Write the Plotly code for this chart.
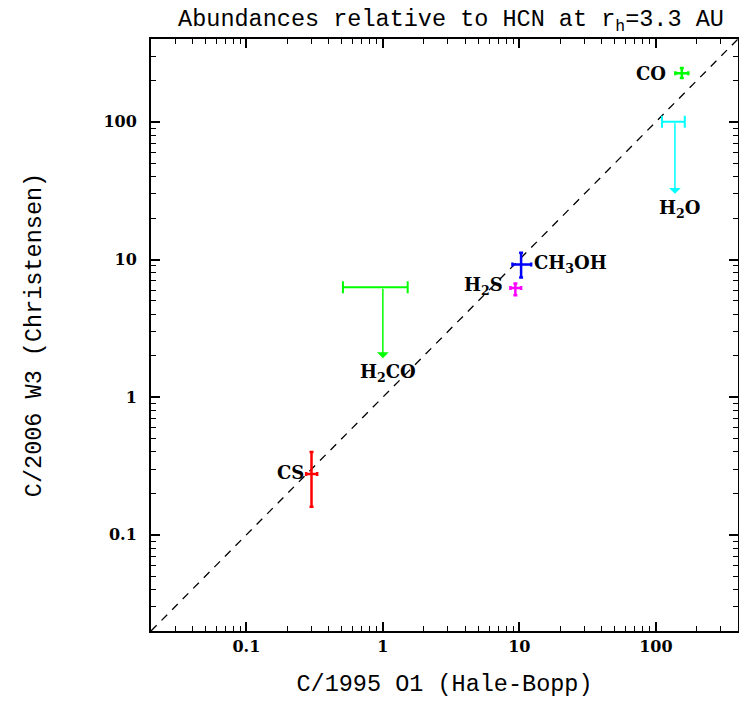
import numpy as np
import plotly.graph_objects as go

# --- data ---
species = ["CO", "CH3OH", "H2S", "CS"]
labels = ["CO", "CH<sub>3</sub>OH", "H<sub>2</sub>S", "CS"]
colors = ["#00ff00", "#0000ff", "#ff00ff", "#ff0000"]
x_hb = [155, 10.3, 9.35, 0.30]
x_lo = [139, 8.9, 8.6, 0.274]
x_hi = [173, 12.2, 10.3, 0.33]
y_w3 = [226, 9.2, 6.2, 0.277]
y_lo = [208, 7.4, 5.5, 0.16]
y_hi = [246, 11.2, 6.7, 0.40]
label_shift_x = [-31, 49, -32, -21]
label_shift_y = [0, 0, 2, 1]

# upper limits
lim_species = ["H2O", "H2CO"]
lim_labels = ["H<sub>2</sub>O", "H<sub>2</sub>CO"]
lim_colors = ["#00ffff", "#00ff00"]
lim_x = [138, 1.0]
lim_x_lo = [111, 0.51]
lim_x_hi = [163, 1.52]
lim_y = [100, 6.3]
lim_tip = [30, 1.92]

diag = [0.02, 400]

fig = go.Figure()

fig.add_trace(go.Scatter(x=diag, y=diag, mode="lines",
                         line=dict(color="black", width=1.3, dash="8px,7px"),
                         showlegend=False, hoverinfo="skip"))

for i, s in enumerate(species):
    fig.add_trace(go.Scatter(
        x=[x_hb[i]], y=[y_w3[i]], mode="markers",
        marker=dict(size=1, color=colors[i]),
        error_x=dict(type="data", symmetric=False,
                     array=[x_hi[i] - x_hb[i]], arrayminus=[x_hb[i] - x_lo[i]],
                     color=colors[i], thickness=2.5, width=2),
        error_y=dict(type="data", symmetric=False,
                     array=[y_hi[i] - y_w3[i]], arrayminus=[y_w3[i] - y_lo[i]],
                     color=colors[i], thickness=2.5, width=2),
        showlegend=False, name=s))
    fig.add_annotation(x=np.log10(x_hb[i]), y=np.log10(y_w3[i]), text="<b>" + labels[i] + "</b>",
                       showarrow=False, xshift=label_shift_x[i], yshift=label_shift_y[i],
                       font=dict(family="DejaVu Serif", size=18, color="black"))

for i, s in enumerate(lim_species):
    fig.add_trace(go.Scatter(
        x=[lim_x[i]], y=[lim_y[i]], mode="markers",
        marker=dict(size=1, color=lim_colors[i]),
        error_x=dict(type="data", symmetric=False,
                     array=[lim_x_hi[i] - lim_x[i]], arrayminus=[lim_x[i] - lim_x_lo[i]],
                     color=lim_colors[i], thickness=2, width=6),
        showlegend=False, name=s))
    fig.add_annotation(x=np.log10(lim_x[i]), y=np.log10(lim_tip[i]),
                       ax=np.log10(lim_x[i]), ay=np.log10(lim_y[i]),
                       axref="x", ayref="y", xref="x", yref="y", text="",
                       showarrow=True, arrowhead=1, arrowsize=1.3, arrowwidth=1.5,
                       arrowcolor=lim_colors[i])
    fig.add_annotation(x=np.log10(lim_x[i]), y=np.log10(lim_tip[i]), text="<b>" + lim_labels[i] + "</b>",
                       showarrow=False, yshift=-15, xshift=5,
                       font=dict(family="DejaVu Serif", size=18, color="black"))

minor_vals = [m * 10.0 ** e for e in range(-2, 3) for m in range(2, 10) if 0.02 <= m * 10.0 ** e <= 400]

axis_common = dict(
    type="log", range=[np.log10(0.02), np.log10(400)], automargin=False,
    tickmode="array", tickvals=[0.1, 1, 10, 100], ticktext=["0.1", "1", "10", "100"],
    ticks="inside", ticklen=9, tickwidth=1.5, tickcolor="black",
    minor=dict(tickmode="array", tickvals=minor_vals, ticks="inside", ticklen=5,
               tickwidth=1.2, tickcolor="black", showgrid=False),
    showline=True, linewidth=2, linecolor="black", mirror="ticks",
    showgrid=False, zeroline=False,
    tickfont=dict(family="DejaVu Serif", size=16, color="black", weight="bold"),
)

fig.update_layout(
    width=739, height=704,
    margin=dict(l=151, r=1, t=39, b=73),
    plot_bgcolor="white", paper_bgcolor="white",
    title=dict(text="Abundances relative to HCN at r<sub>h</sub>=3.3 AU",
               x=451 / 739, xanchor="center", y=0.987, yanchor="top",
               font=dict(family="Liberation Mono", size=23.5, color="black")),
    xaxis=dict(axis_common, ticklabelstandoff=0,
               title=dict(text="C/1995 O1 (Hale-Bopp)", standoff=19,
                          font=dict(family="Liberation Mono", size=23.5, color="black"))),
    yaxis=dict(axis_common, ticklabelstandoff=9,
               title=dict(text="C/2006 W3 (Christensen)", standoff=55,
                          font=dict(family="Liberation Mono", size=23.5, color="black"))),
)

# remove the default page margin so the 739x704 figure fills the window exactly
fig.write_html("out.html", config={"displayModeBar": False},
               post_script="document.body.style.margin='0';document.body.style.overflow='hidden';")
